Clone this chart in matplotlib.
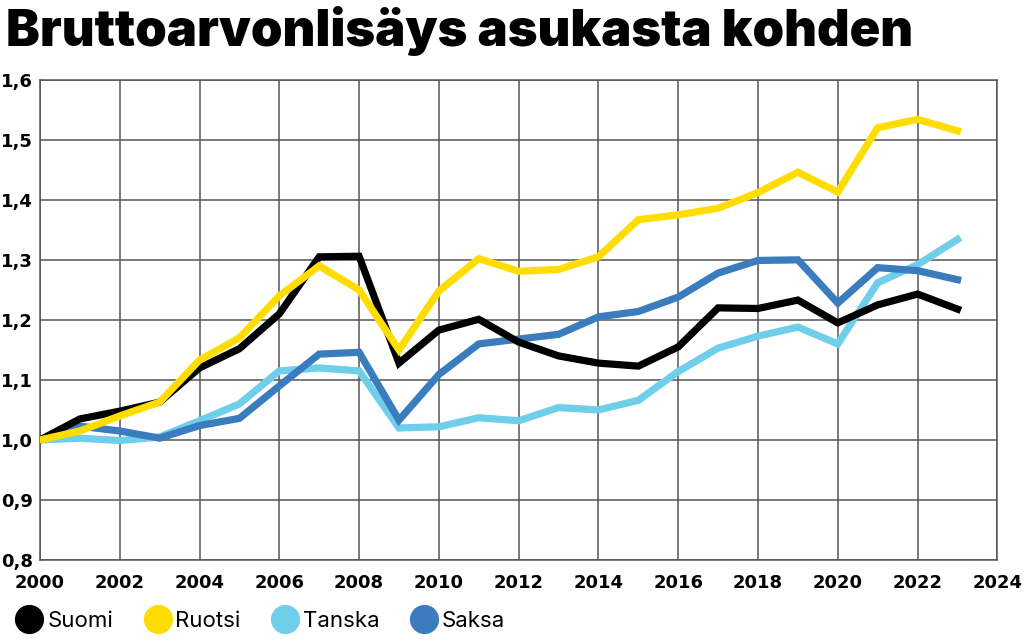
import numpy as np
import matplotlib.pyplot as plt
from matplotlib.lines import Line2D
from matplotlib.ticker import FuncFormatter

vuodet = list(range(2000, 2024))

suomi = [1.000, 1.035, 1.048, 1.063, 1.120, 1.152, 1.210, 1.305, 1.306, 1.128,
         1.183, 1.201, 1.163, 1.140, 1.128, 1.123, 1.155, 1.220, 1.219, 1.233,
         1.195, 1.225, 1.243, 1.218]
ruotsi = [1.000, 1.015, 1.040, 1.063, 1.133, 1.170, 1.240, 1.290, 1.250, 1.150,
          1.248, 1.302, 1.281, 1.284, 1.305, 1.367, 1.375, 1.386, 1.412, 1.446,
          1.413, 1.520, 1.534, 1.515]
tanska = [1.000, 1.003, 0.999, 1.005, 1.032, 1.060, 1.115, 1.120, 1.115, 1.020,
          1.022, 1.037, 1.032, 1.054, 1.050, 1.066, 1.114, 1.153, 1.173, 1.188,
          1.160, 1.262, 1.292, 1.334]
saksa = [1.000, 1.023, 1.015, 1.003, 1.024, 1.036, 1.090, 1.143, 1.146, 1.033,
         1.109, 1.160, 1.168, 1.176, 1.205, 1.214, 1.238, 1.278, 1.299, 1.300,
         1.228, 1.287, 1.282, 1.267]

sarjat = ['Suomi', 'Ruotsi', 'Tanska', 'Saksa']
arvot = [suomi, ruotsi, tanska, saksa]
varit = ['#000000', '#FFDD00', '#6FCFEB', '#3A7CBE']

plt.rcParams['font.family'] = ['Inter', 'DejaVu Sans']

fig = plt.figure(figsize=(10.24, 6.43), dpi=100)
ax = fig.add_axes([0.039, 0.129, 0.935, 0.747])

# piirtojärjestys: tanska ja saksa ensin, suomi ja ruotsi päälle
for i in [2, 3, 0, 1]:
    ax.plot(vuodet, arvot[i], color=varit[i], lw=5.2, solid_joinstyle='miter', zorder=3)

ax.set_xlim(2000, 2024)
ax.set_ylim(0.8, 1.6)
ax.set_xticks(range(2000, 2025, 2))
ax.set_yticks(np.arange(0.8, 1.61, 0.1))
ax.yaxis.set_major_formatter(FuncFormatter(lambda v, p: f'{v:.1f}'.replace('.', ',')))
ax.grid(True, color='#555555', lw=1.1, zorder=1)
for s in ax.spines.values():
    s.set_color('#555555')
    s.set_linewidth(1.1)
ax.tick_params(length=0, labelsize=13, pad=10)
ax.tick_params(axis='y', pad=5)
for lab in ax.get_xticklabels() + ax.get_yticklabels():
    lab.set_family('DejaVu Sans')
    lab.set_fontweight('bold')

fig.text(0.006, 0.991, 'Bruttoarvonlisäys asukasta kohden', fontsize=36.5,
         fontweight='black', va='top', ha='left')

kahvat = [Line2D([], [], ls='', marker='o', markersize=20, color=c) for c in varit]
fig.legend(kahvat, sarjat, loc='lower left', bbox_to_anchor=(-0.006, -0.012), ncol=4,
           frameon=False, fontsize=16, handletextpad=0.1, columnspacing=1.3,
           handlelength=1.4)

fig.savefig('out.png', dpi=100)
